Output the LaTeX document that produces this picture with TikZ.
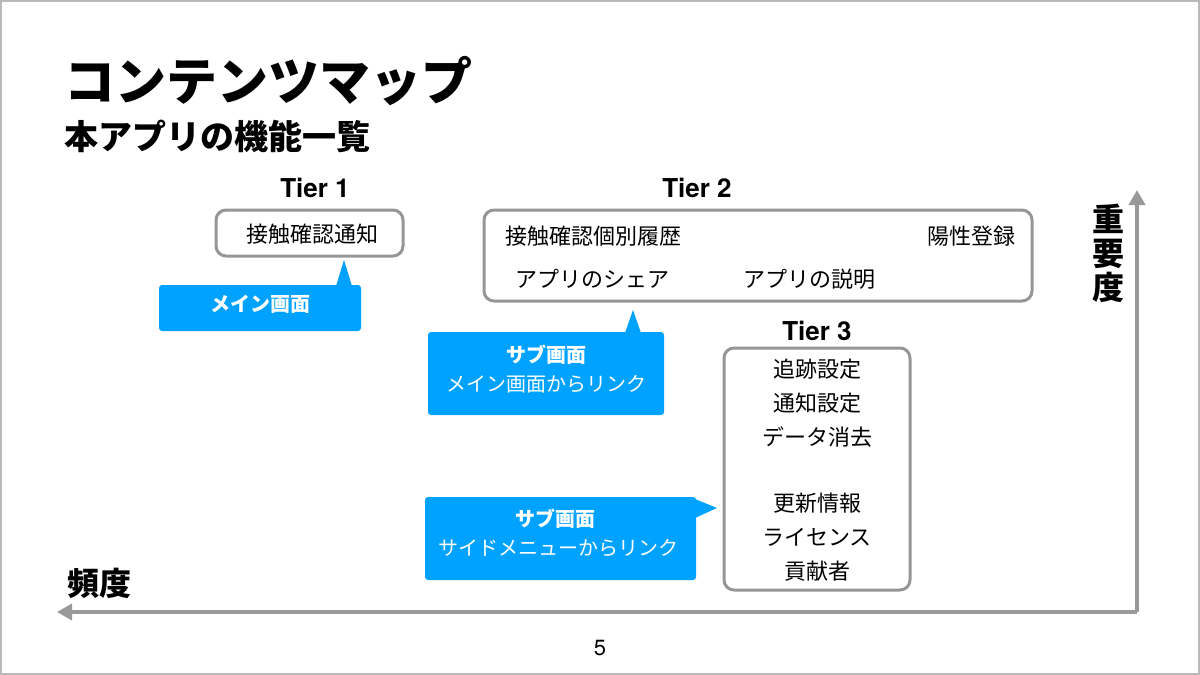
\documentclass[tikz,border=0pt]{standalone}
\usepackage{fontspec}
\setmainfont{Noto Sans CJK JP}
\newfontfamily\latinfont{TeX Gyre Heros}
\usetikzlibrary{arrows.meta}
\definecolor{callblue}{RGB}{0,162,255}
\definecolor{axisgray}{RGB}{153,153,153}
\definecolor{boxgray}{RGB}{150,150,150}
\begin{document}
\begin{tikzpicture}[x=0.5pt,y=-0.5pt,
  tierbox/.style={draw=boxgray, line width=1.5pt, rounded corners=5pt, fill=white},
  tierlabel/.style={font=\latinfont\bfseries\fontsize{13}{15}\selectfont},
  item/.style={font=\fontsize{11}{13}\selectfont, inner sep=0pt},
  callfill/.style={fill=callblue, rounded corners=1.5pt},
  calltext/.style={text=white, font=\fontsize{10}{12}\selectfont, inner sep=0pt},
  calltitle/.style={text=white, font=\bfseries\fontsize{10}{12}\selectfont, inner sep=0pt},
  axisline/.style={draw=axisgray, line width=2pt, -{Triangle[length=7.5pt,width=8pt]}},
  axislabel/.style={font=\bfseries\fontsize{16}{17}\selectfont, inner sep=0pt}
]
\useasboundingbox (0,0) rectangle (1200,675);
\draw[gray!55, line width=0.6pt] (1,1) rectangle (1199,674);

% titles
\node[anchor=west, inner sep=0pt, font=\bfseries\fontsize{25.5}{30}\selectfont] (title) at (64,81) {コンテンツマップ};
\node[anchor=west, inner sep=0pt, font=\bfseries\fontsize{17}{20}\selectfont] (subtitle) at (64,136) {本アプリの機能一覧};

% axes
\coordinate (origin) at (1137,612);
\coordinate (ytip) at (1137,190);
\coordinate (xtip) at (57,612);
\draw[axisline, line join=miter] (origin) -- (ytip);
\draw[axisline, line join=miter] (origin) -- (xtip);
\node[axislabel, align=center] (imp) at (1108,253) {重\\要\\度};
\node[axislabel] (freq) at (100,583) {頻度};
\node[font=\latinfont\fontsize{11}{13}\selectfont] (page) at (600,648) {5};

% Tier 1
\node[tierlabel] (t1lab) at (315,188) {Tier 1};
\draw[tierbox] (216,210) rectangle (403,256);
\node[item] (t1a) at (312,234) {接触確認通知};

% Tier 2
\node[tierlabel] (t2lab) at (697,188) {Tier 2};
\draw[tierbox] (484,210) rectangle (1032,301);
\node[item, anchor=west] (t2a) at (505,236) {接触確認個別履歴};
\node[item, anchor=east] (t2b) at (1016,236) {陽性登録};
\node[item, anchor=west] (t2c) at (515,279) {アプリのシェア};
\node[item, anchor=west] (t2d) at (743,279) {アプリの説明};

% Tier 3
\node[tierlabel] (t3lab) at (817,331) {Tier 3};
\draw[tierbox] (724,348) rectangle (910,590);
\node[item] (t3a) at (817,369) {追跡設定};
\node[item] (t3b) at (817,403) {通知設定};
\node[item] (t3c) at (817,437) {データ消去};
\node[item] (t3d) at (817,503) {更新情報};
\node[item] (t3e) at (817,537) {ライセンス};
\node[item] (t3f) at (817,571) {貢献者};

% callout 1
\fill[callfill] (159,285) rectangle (361,331);
\fill[callblue] (336,286) -- (344,260) -- (352,286) -- cycle;
\node[calltitle] (c1) at (260,304) {メイン画面};

% callout 2
\fill[callfill] (428,332) rectangle (664,415);
\fill[callblue] (625,333) -- (633,310) -- (641,333) -- cycle;
\node[calltitle] (c2a) at (546,355) {サブ画面};
\node[calltext] (c2b) at (546,384) {メイン画面からリンク};

% callout 3
\fill[callfill] (425,497) rectangle (696,580);
\fill[callblue] (695,499) -- (717,508) -- (695,518) -- cycle;
\node[calltitle] (c3a) at (555,519) {サブ画面};
\node[calltext] (c3b) at (558,548) {サイドメニューからリンク};
\end{tikzpicture}
\end{document}
